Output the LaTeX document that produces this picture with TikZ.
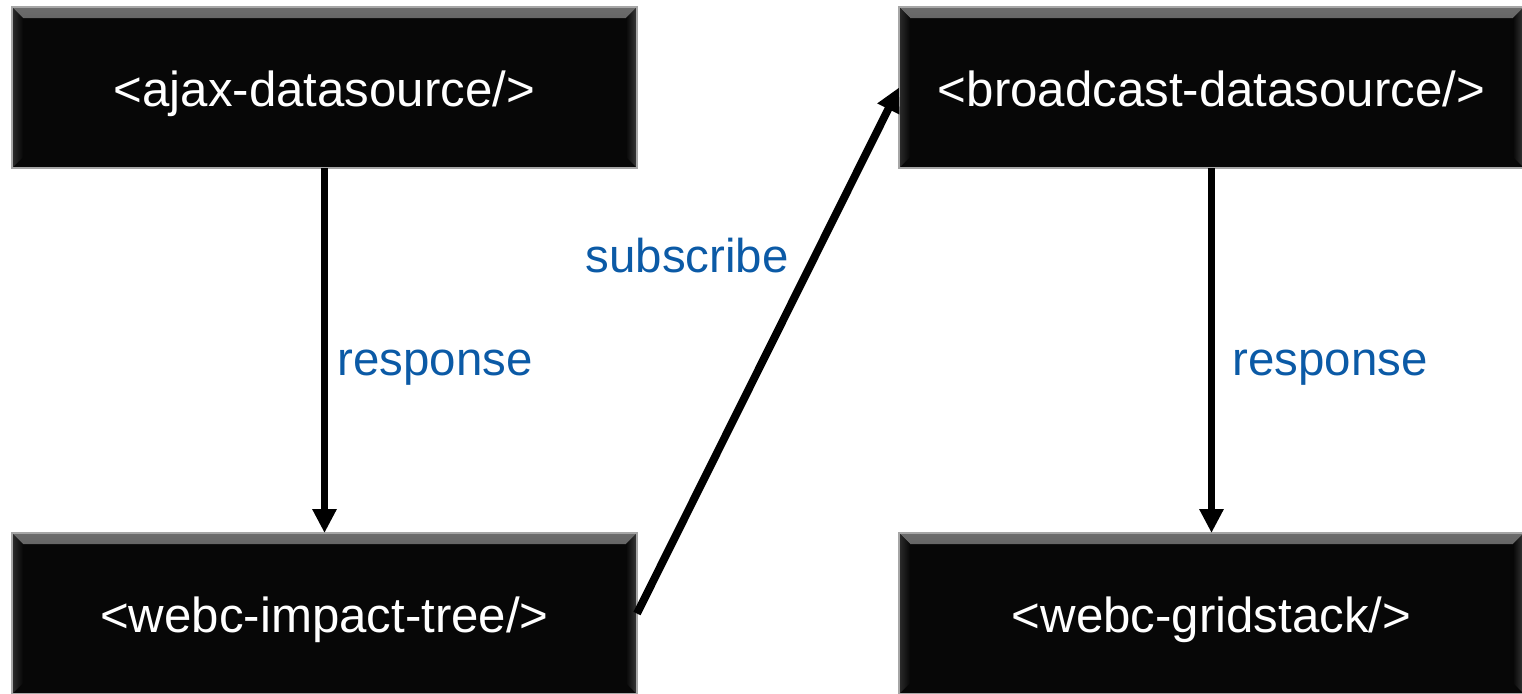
\documentclass[tikz,border=0pt]{standalone}
\usepackage{fontspec}
\setmainfont{Liberation Sans}
\usepackage{tikz}
\usetikzlibrary{arrows.meta,positioning}
\definecolor{msgblue}{HTML}{0B5AA6}
\definecolor{boxblack}{HTML}{070707}
\newcommand{\tagfont}{\fontsize{28}{33}\selectfont}
\newcommand{\msgfont}{\fontsize{27}{32}\selectfont}

\begin{document}
\begin{tikzpicture}[
  >=Triangle,
  tagbox/.style={draw=gray!70, line width=0.6pt, fill=boxblack, text=white, font=\tagfont,
    minimum width=12.5cm, minimum height=3.22cm, inner sep=0pt, outer sep=0pt,
    text height=21.5pt, text depth=0pt,
    path picture={
      \shade[top color=gray!85!black, bottom color=boxblack]
        (path picture bounding box.north west) -- (path picture bounding box.north east)
        -- ([shift={(-0.22,-0.22)}]path picture bounding box.north east)
        -- ([shift={(0.22,-0.22)}]path picture bounding box.north west) -- cycle;
      \shade[left color=gray!35!black, right color=boxblack]
        (path picture bounding box.north west) -- ([shift={(0.22,-0.22)}]path picture bounding box.north west)
        -- ([shift={(0.22,0.22)}]path picture bounding box.south west) -- (path picture bounding box.south west) -- cycle;
      \shade[right color=gray!45!black, left color=boxblack]
        (path picture bounding box.north east) -- ([shift={(-0.22,-0.22)}]path picture bounding box.north east)
        -- ([shift={(-0.22,0.22)}]path picture bounding box.south east) -- (path picture bounding box.south east) -- cycle;
    }},
  flow/.style={line width=4.5pt, -{Triangle[length=0.48cm,width=0.46cm]}},
  msg/.style={text=msgblue, font=\msgfont, inner sep=0pt}
]
\useasboundingbox (0,0) rectangle (30.44,-13.88);

\node[tagbox] (ajax) at (6.49,-1.75) {<ajax-datasource/>};
\node[tagbox, below=7.3cm of ajax] (tree) {<webc-impact-tree/>};
\node[tagbox, right=5.24cm of ajax] (broadcast) {<broadcast-datasource/>};
\node[tagbox, below=7.3cm of broadcast] (grid) {<webc-gridstack/>};

\draw[flow] (ajax) -- node[msg, right=0.18cm, pos=0.548] (resp1) {response} (tree);
\draw[flow] (tree.east) -- node[msg, left=0.45cm, pos=0.68] (sub) {subscribe} (broadcast.west);
\draw[flow] (broadcast) -- node[msg, right=0.34cm, pos=0.548] (resp2) {response} (grid);

\end{tikzpicture}
\end{document}
